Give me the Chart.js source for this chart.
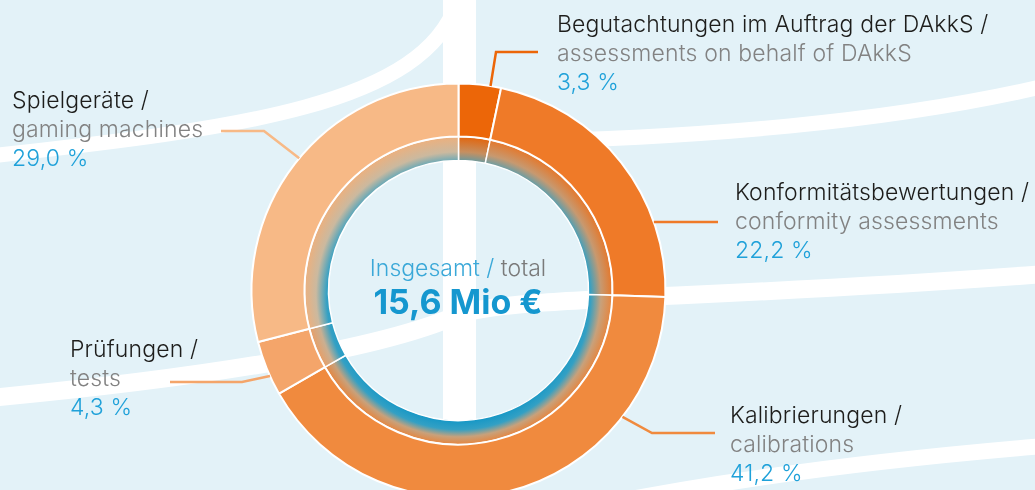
<!DOCTYPE html>
<html>
<head>
<meta charset="utf-8">
<script src="https://cdn.jsdelivr.net/npm/chart.js@4.4.1/dist/chart.umd.min.js"></script>
<style>
    html, body {
        margin: 0;
        padding: 0;
        width: 1035px;
        height: 490px;
        overflow: hidden;
        background: #e3f2f8;
        font-family: Inter, "Liberation Sans", sans-serif;
    }
    #wrap { position: absolute; left: 0; top: 0; width: 1035px; height: 581px; }
    #bg, #c { position: absolute; left: 0; top: 0; }
    .label {
        position: absolute;
        font-size: 23px;
        line-height: 29px;
        font-weight: 300;
        letter-spacing: 0.15px;
        white-space: nowrap;
    }
    .de { color: #1d1d1b; }
    .en { color: #828282; }
    .pct { color: #1fa1d9; }
    #center {
        position: absolute;
        left: 308px;
        width: 300px;
        text-align: center;
        white-space: nowrap;
    }
    #center .t1 { font-size: 23px; line-height: 28px; font-weight: 300; }
    #center .t1 .blue { color: #3aa8d8; }
    #center .t1 .grey { color: #7a7a7a; }
    #center .t2 { font-size: 34px; line-height: 40px; font-weight: 700; color: #1597cf; }
</style>
</head>
<body>
<div id="wrap">
    <svg id="bg" width="1035" height="581">
        <g fill="none" stroke="#ffffff">
            <rect x="443" y="0" width="33" height="581" fill="#ffffff" stroke="none"/>
            <path d="M -10 156 C 240 128, 425 105, 458 0" stroke-width="15"/>
            <path d="M 470 142 C 700 140, 900 120, 1045 86" stroke-width="15"/>
            <path d="M -10 398 C 200 378, 380 350, 460 314 C 520 296, 700 300, 1045 274" stroke-width="18"/>
            <path d="M 600 505 C 750 475, 900 458, 1045 446" stroke-width="16"/>
        </g>
    </svg>
    <canvas id="c" width="1035" height="581"></canvas>
    <div id="labels"></div>
    <div id="center" style="top:254px">
        <div class="t1"><span class="blue">Insgesamt /</span> <span class="grey">total</span></div>
        <div class="t2">15,6 Mio €</div>
    </div>
</div>

<script>
// data
const categoriesDe = ["Begutachtungen im Auftrag der DAkkS", "Konformitätsbewertungen", "Kalibrierungen", "Prüfungen", "Spielgeräte"];
const categoriesEn = ["assessments on behalf of DAkkS", "conformity assessments", "calibrations", "tests", "gaming machines"];
const shares = [3.3, 22.2, 41.2, 4.3, 29.0];

// styles
const sliceColors = ["#ec6608", "#ef7a28", "#f08a3e", "#f4a56a", "#f7b986"];
const OUTER_R = 207;
const SPLIT_R = 154;
const INNER_R = 130;

// label boxes: text left / first baseline, leader start angle (deg from top), elbow, end x
const labelLayout = [
    { x: 557, base: 33,  angle: 8.9,   elbow: [496, 52],  end: 538 },
    { x: 735, base: 201, angle: 70.7,  elbow: [690, 222], end: 718 },
    { x: 730, base: 424, angle: 127.6, elbow: [652, 433], end: 715 },
    { x: 70,  base: 358, angle: 245.6, elbow: [242, 382], end: 170 },
    { x: 12,  base: 109, angle: 309.7, elbow: [264, 131], end: 221 }
];
const BASE_OFFSET = 23;

function hexToRgb(h) {
    const n = parseInt(h.slice(1), 16);
    return [(n >> 16) & 255, (n >> 8) & 255, n & 255];
}

function mix(a, b, t) {
    const p = hexToRgb(a), q = hexToRgb(b);
    const r = p.map((v, i) => Math.round(v + (q[i] - v) * t));
    return "rgb(" + r.join(",") + ")";
}

// inner ring: slice colour fading into blue towards the hole, stronger at the bottom
function innerFill(ctx) {
    const chart = ctx.chart;
    const area = chart.chartArea;
    const base = sliceColors[ctx.dataIndex];
    if (!area) {
        return base;
    }
    const cx = (area.left + area.right) / 2;
    const cy = (area.top + area.bottom) / 2;
    const g = chart.ctx.createRadialGradient(cx, cy + 12, INNER_R - 12, cx, cy, SPLIT_R);
    g.addColorStop(0, "#1597c6");
    g.addColorStop(0.38, "#33a0c4");
    g.addColorStop(0.68, mix(base, "#9fb8b8", 0.5));
    g.addColorStop(1, mix(base, "#8a5a3a", 0.1));
    return g;
}

const leaderPlugin = {
    id: "leaders",
    afterDatasetsDraw(chart) {
        const arcs = chart.getDatasetMeta(0).data;
        const c = chart.ctx;
        c.save();
        c.lineWidth = 2.5;
        arcs.forEach((arc, i) => {
            const L = labelLayout[i];
            const a = (L.angle - 90) * Math.PI / 180;
            const sx = arc.x + Math.cos(a) * arc.outerRadius;
            const sy = arc.y + Math.sin(a) * arc.outerRadius;
            c.strokeStyle = sliceColors[i];
            c.beginPath();
            c.moveTo(sx, sy);
            c.lineTo(L.elbow[0], L.elbow[1]);
            c.lineTo(L.end, L.elbow[1]);
            c.stroke();
        });
        c.restore();
    }
};

new Chart(document.getElementById("c"), {
    type: "doughnut",
    data: {
        labels: categoriesDe,
        datasets: [
            {
                data: shares,
                backgroundColor: sliceColors,
                borderColor: "#ffffff",
                borderWidth: 2,
                weight: OUTER_R - SPLIT_R
            },
            {
                data: shares,
                backgroundColor: innerFill,
                borderColor: "#ffffff",
                borderWidth: 1.5,
                weight: SPLIT_R - INNER_R
            }
        ]
    },
    options: {
        responsive: false,
        animation: false,
        radius: OUTER_R,
        cutout: (INNER_R / OUTER_R * 100) + "%",
        layout: {
            padding: { left: 0, right: 118, top: 0, bottom: 0 }
        },
        plugins: {
            legend: { display: false },
            tooltip: { enabled: false }
        }
    },
    plugins: [leaderPlugin]
});

// labels
const labelsDiv = document.getElementById("labels");
categoriesDe.forEach((name, i) => {
    const L = labelLayout[i];
    const d = document.createElement("div");
    d.className = "label";
    d.style.left = L.x + "px";
    d.style.top = (L.base - BASE_OFFSET) + "px";
    d.innerHTML =
        '<div class="de">' + name + ' /</div>' +
        '<div class="en">' + categoriesEn[i] + '</div>' +
        '<div class="pct">' + shares[i].toFixed(1).replace(".", ",") + ' %</div>';
    labelsDiv.appendChild(d);
});
</script>
</body>
</html>
